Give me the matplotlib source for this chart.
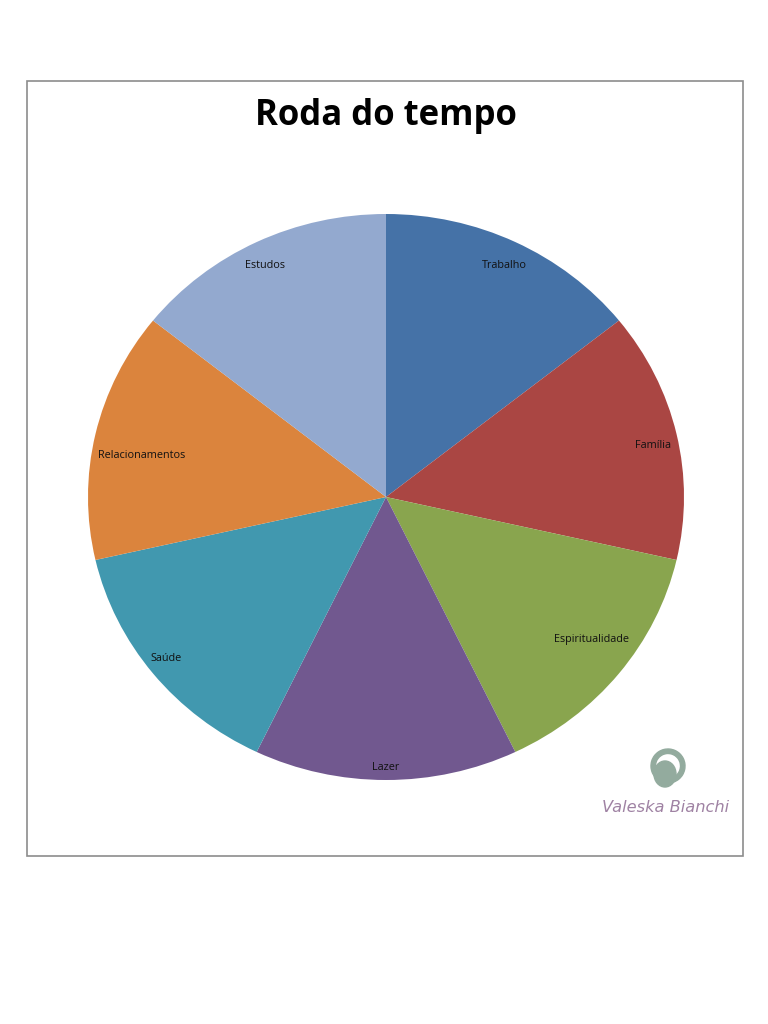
import numpy as np
import matplotlib.pyplot as plt
from matplotlib.patches import Rectangle, Wedge, Ellipse

# Data
categories = ['Trabalho', 'Família', 'Espiritualidade', 'Lazer', 'Saúde',
              'Relacionamentos', 'Estudos']
values = [1, 1, 1, 1, 1, 1, 1]
colors = ['#4572A7', '#AA4643', '#89A54E', '#71588F', '#4198AF',
          '#DB843D', '#93A9CF']
# label placement per slice (Excel placed them unevenly)
label_dist = [0.915, 0.915, 0.852, 0.95, 0.93, 0.833, 0.918]
label_turn = [0.0, -1.0, 2.8, 0.0, -1.2, 2.4, 0.6]  # degrees

W, H = 768, 1024
fig = plt.figure(figsize=(7.68, 10.24), dpi=100)
fig.patch.set_facecolor('white')

# Outer chart border
fig.patches.append(Rectangle((27 / W, 1 - 856 / H), (743 - 27) / W, (856 - 81) / H,
                             transform=fig.transFigure, fill=False,
                             edgecolor='#8c8c8c', linewidth=1.2))

fig.text(386 / W, 1 - 116 / H, 'Roda do tempo', ha='center', va='center',
         fontsize=25, fontweight='bold', family='Open Sans')

# Pie (slightly elliptical, like the original)
ax = fig.add_axes([88 / W, 1 - 780 / H, (684 - 88) / W, (780 - 214) / H])
wedges, texts = ax.pie(values, labels=categories, colors=colors, startangle=90,
                       counterclock=False,
                       textprops=dict(fontsize=7.8, family='Open Sans', color='#111111'),
                       wedgeprops=dict(linewidth=0))
for w, t, d, dt in zip(wedges, texts, label_dist, label_turn):
    ang = np.deg2rad((w.theta1 + w.theta2) / 2 + dt)
    t.set_position((d * np.cos(ang), d * np.sin(ang)))
    t.set_ha('center')
    t.set_va('center_baseline')
ax.set_aspect('auto')
ax.set_xlim(-1, 1)
ax.set_ylim(-1, 1)
ax.axis('off')

# Logo
lx = fig.add_axes([595 / W, 1 - 830 / H, 140 / W, 85 / H])
lx.set_xlim(0, 140)
lx.set_ylim(0, 85)
lx.axis('off')
lx.add_patch(Wedge((73, 64), 17, -70, 240, width=4.5, color='#93ab9e'))
lx.add_patch(Ellipse((70, 56), 22, 26, color='#93ab9e'))
lx.text(71, 22, 'Valeska Bianchi', ha='center', va='center', fontsize=11.7,
        style='italic', color='#9f82a3', family='DejaVu Sans')

fig.savefig('out.png', dpi=100)
